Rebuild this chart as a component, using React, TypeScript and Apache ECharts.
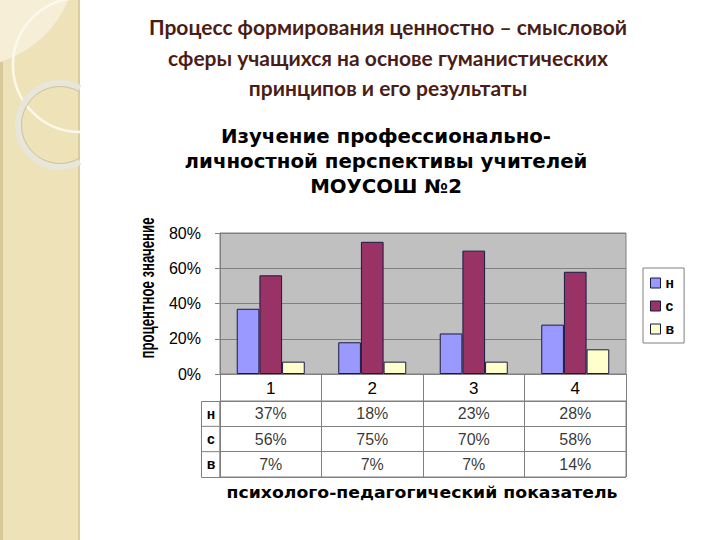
import React, { useEffect, useRef } from "react";
import * as echarts from "echarts";

const categories = ["1", "2", "3", "4"];
const seriesNames = ["н", "с", "в"];
const valuesN = [0.37, 0.18, 0.23, 0.28];
const valuesC = [0.56, 0.75, 0.7, 0.58];
const valuesV = [0.07, 0.07, 0.07, 0.14];
const yTicks = [0, 0.2, 0.4, 0.6, 0.8];
const colors = ["#9999ff", "#993366", "#ffffcc"];

const mainTitle =
  "Процесс формирования ценностно – смысловой\nсферы учащихся на основе гуманистических\nпринципов и его результаты";
const chartTitle =
  "Изучение профессионально-\nличностной перспективы учителей\nМОУСОШ №2";
const xName = "психолого-педагогический показатель";
const yName = "процентное значение";

const ARIAL = "'Liberation Sans', Arial, sans-serif";
const GRID_LEFT = 220;
const GRID_TOP = 233;
const GRID_W = 406;
const GRID_H = 141;
const TABLE_TOP = 401;
const TABLE_H = 76;
const GRAY = "#808080";

export default function App() {
  const ref = useRef<HTMLDivElement>(null);
  useEffect(() => {
    if (!ref.current) return;
    const chart = echarts.init(ref.current, null, { renderer: "svg" });
    const allSeries = [valuesN, valuesC, valuesV];
    const tableData: any[] = [];
    allSeries.forEach((arr, r) => {
      arr.forEach((v, i) => {
        tableData.push([i, r, Math.round(v * 100) + "%"]);
      });
    });
    const rowH = TABLE_H / 3;
    const option: any = {
      animation: false,
      backgroundColor: "#ffffff",
      textStyle: { fontFamily: ARIAL },
      grid: [
        {
          left: GRID_LEFT,
          top: GRID_TOP,
          width: GRID_W,
          height: GRID_H,
          show: true,
          backgroundColor: "#c0c0c0",
          borderColor: GRAY,
          borderWidth: 1,
        },
        {
          left: GRID_LEFT,
          top: TABLE_TOP,
          width: GRID_W,
          height: TABLE_H,
          show: true,
          backgroundColor: "transparent",
          borderColor: GRAY,
          borderWidth: 1,
        },
      ],
      legend: {
        data: seriesNames,
        orient: "vertical",
        left: 643,
        top: 268,
        padding: [8, 10, 7, 7],
        itemGap: 9,
        itemWidth: 10,
        itemHeight: 10,
        icon: "rect",
        backgroundColor: "#ffffff",
        borderColor: GRAY,
        borderWidth: 1,
        itemStyle: { borderColor: "#1a1a40", borderWidth: 1 },
        textStyle: { fontFamily: ARIAL, fontSize: 14, fontWeight: "bold", color: "#000" },
      },
      xAxis: [
        {
          type: "category",
          gridIndex: 0,
          data: categories,
          axisLine: { lineStyle: { color: GRAY } },
          axisTick: { show: true, length: 27, interval: 0, lineStyle: { color: GRAY } },
          axisLabel: { fontSize: 17, color: "#000", margin: 6, fontFamily: ARIAL },
          splitLine: { show: false },
        },
        {
          type: "category",
          gridIndex: 1,
          data: categories,
          axisLine: { show: false },
          axisTick: { show: false },
          axisLabel: { show: false },
          splitLine: { show: true, interval: 0, lineStyle: { color: GRAY, width: 1 } },
        },
      ],
      yAxis: [
        {
          type: "value",
          gridIndex: 0,
          min: yTicks[0],
          max: yTicks[yTicks.length - 1],
          interval: 0.2,
          axisLine: { show: true, lineStyle: { color: GRAY } },
          axisTick: { show: true, length: 5, lineStyle: { color: GRAY } },
          axisLabel: {
            fontSize: 16,
            color: "#000",
            margin: 19,
            fontFamily: ARIAL,
            formatter: (v: number) => Math.round(v * 100) + "%",
          },
          splitLine: { show: true, lineStyle: { color: GRAY, width: 1 } },
        },
        {
          type: "category",
          gridIndex: 1,
          data: seriesNames,
          inverse: true,
          axisLine: { show: false },
          axisTick: { show: false },
          axisLabel: {
            fontSize: 14,
            fontWeight: "bold",
            color: "#000",
            margin: 9,
            align: "center",
            fontFamily: ARIAL,
          },
          splitLine: { show: true, interval: 0, lineStyle: { color: GRAY, width: 1 } },
        },
      ],
      series: [
        ...allSeries.map((arr, k) => ({
          type: "bar",
          name: seriesNames[k],
          xAxisIndex: 0,
          yAxisIndex: 0,
          data: arr,
          barGap: "0%",
          barCategoryGap: "33%",
          itemStyle: { color: colors[k], borderColor: "#1a1a40", borderWidth: 1 },
        })),
        {
          type: "scatter",
          xAxisIndex: 1,
          yAxisIndex: 1,
          data: tableData,
          symbolSize: 1,
          itemStyle: { color: "transparent" },
          silent: true,
          label: {
            show: true,
            position: "inside",
            formatter: (p: any) => p.value[2],
            fontSize: 16,
            color: "#000",
            fontFamily: ARIAL,
          },
        },
      ],
      graphic: [
        // left decorative strip
        { type: "rect", z: 0, shape: { x: 0, y: 0, width: 80, height: 540 }, style: { fill: "#eee2b9" } },
        { type: "circle", z: 0, shape: { cx: -30, cy: -40, r: 106 }, style: { fill: "#f6eed6" } },
        { type: "rect", z: 0, shape: { x: 0, y: 62, width: 3, height: 478 }, style: { fill: "#d8c99b" } },
        { type: "rect", z: 0, shape: { x: 78, y: 0, width: 2, height: 540 }, style: { fill: "#dccd9f" } },
        {
          type: "arc",
          z: 1,
          shape: { cx: 80, cy: 65, r: 67, startAngle: Math.PI / 2, endAngle: (Math.PI * 3) / 2, clockwise: true },
          style: { stroke: "#fcf8ec", lineWidth: 2.5, fill: "none" },
        },
        {
          type: "arc",
          z: 1,
          shape: { cx: 60, cy: 125, r: 42, startAngle: 1.075, endAngle: 5.208, clockwise: true },
          style: { stroke: "#e8e5db", lineWidth: 6, fill: "none" },
        },
        {
          type: "arc",
          z: 1,
          shape: { cx: 60, cy: 125, r: 38.5, startAngle: 1.02, endAngle: 5.26, clockwise: true },
          style: { stroke: "#cbc2a3", lineWidth: 1, fill: "none" },
        },
        // titles
        {
          type: "text",
          z: 10,
          x: 388,
          y: 57,
          style: {
            text: mainTitle,
            font: "bold 21px Lato, 'Open Sans', sans-serif",
            fill: "#4b1d17",
            textAlign: "center",
            textVerticalAlign: "middle",
            lineHeight: 30.5,
          },
        },
        {
          type: "text",
          z: 10,
          x: 386,
          y: 162,
          scaleX: 1.04,
          style: {
            text: chartTitle,
            font: "bold 19px 'DejaVu Sans', sans-serif",
            fill: "#000",
            textAlign: "center",
            textVerticalAlign: "middle",
            lineHeight: 25,
          },
        },
        {
          type: "text",
          z: 10,
          x: 148,
          y: 288,
          rotation: Math.PI / 2,
          scaleX: 0.66,
          style: {
            text: yName,
            font: "bold 20px 'Liberation Sans', Arial, sans-serif",
            fill: "#000",
            textAlign: "center",
            textVerticalAlign: "middle",
          },
        },
        {
          type: "text",
          z: 10,
          x: 422,
          y: 493,
          scaleX: 1.08,
          style: {
            text: xName,
            font: "bold 16px 'DejaVu Sans', sans-serif",
            fill: "#000",
            textAlign: "center",
            textVerticalAlign: "middle",
          },
        },
        // row-label column of the data table
        {
          type: "rect",
          z: 10,
          shape: { x: 201.5, y: TABLE_TOP + 0.5, width: GRID_LEFT - 201.5, height: TABLE_H },
          style: { fill: "none", stroke: GRAY, lineWidth: 1 },
        },
        {
          type: "line",
          z: 10,
          shape: { x1: 201.5, y1: TABLE_TOP + rowH, x2: GRID_LEFT, y2: TABLE_TOP + rowH },
          style: { stroke: GRAY, lineWidth: 1 },
        },
        {
          type: "line",
          z: 10,
          shape: { x1: 201.5, y1: TABLE_TOP + 2 * rowH, x2: GRID_LEFT, y2: TABLE_TOP + 2 * rowH },
          style: { stroke: GRAY, lineWidth: 1 },
        },
      ],
    };
    chart.setOption(option);
    return () => chart.dispose();
  }, []);
  return (
    <div
      ref={ref}
      style={{ position: "fixed", left: 0, top: 0, width: 720, height: 540, background: "#fff" }}
    />
  );
}
